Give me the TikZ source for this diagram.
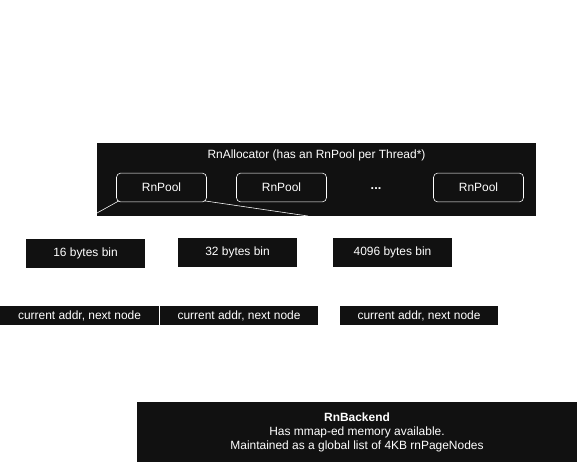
\documentclass[tikz,border=0pt]{standalone}
\usepackage{fontspec}
\setmainfont{Liberation Sans}
\usepackage{xcolor}
\definecolor{boxdark}{HTML}{111111}

\begin{document}
\begin{tikzpicture}[x=0.025cm, y=-0.025cm,
        darkBox/.style = {fill=boxdark,
            text=white,
            inner sep=0pt,
            font=\fontsize{8.5}{10}\selectfont},
        pool/.style = {draw=white,
            rounded corners=3pt,
            fill=boxdark,
            text=white,
            minimum width=2.25cm,
            minimum height=0.72cm,
            font=\fontsize{8.5}{10}\selectfont}]

        \useasboundingbox (0,0) rectangle (577,463);

        % Allocator
        \node[darkBox,minimum width=10.975cm,minimum height=1.825cm] (alloc) at (316.5,179.5) {};
        \node[text=white,font=\fontsize{8.5}{10}\selectfont] (allocTitle) at (316.5,155) {RnAllocator (has an RnPool per Thread*)};

        % Pools
        \node[pool] (poolA) at (161.5,187.5) {RnPool};
        \node[pool] (poolB) at (281.5,187.5) {RnPool};
        \node[text=white,font=\bfseries\fontsize{9}{10}\selectfont] (dots) at (376,189) {...};
        \node[pool] (poolC) at (478.5,187.5) {RnPool};

        % Pool lines
        \coordinate (leftEnd) at (97,213);
        \coordinate (rightEnd) at (308,216);
        \draw[white,thin] (poolA.south west) ++(2pt,1pt) coordinate (poolAsw) -- (leftEnd);
        \draw[white,thin] (poolA.south east) ++(-2pt,1pt) coordinate (poolAse) -- (rightEnd);

        % Bins
        \node[darkBox,minimum width=2.975cm,minimum height=0.725cm] (bin16) at (85.5,253.5) {16 bytes bin};
        \node[darkBox,minimum width=2.975cm,minimum height=0.725cm] (bin32) at (237.5,252.5) {32 bytes bin};
        \node[darkBox,minimum width=2.975cm,minimum height=0.725cm] (bin4096) at (392.5,252.5) {4096 bytes bin};

        % Nodes
        \node[darkBox,minimum width=3.975cm,minimum height=0.475cm] (nodeA) at (79.5,315.5) {current addr, next node};
        \node[darkBox,minimum width=3.95cm,minimum height=0.475cm] (nodeB) at (239,315.5) {current addr, next node};
        \node[darkBox,minimum width=3.95cm,minimum height=0.475cm] (nodeC) at (419,315.5) {current addr, next node};

        % Backend
        \node[darkBox,minimum width=11cm,minimum height=1.5cm,align=center] (backend) at (357,432)
            {\textbf{RnBackend}\\Has mmap-ed memory available.\\Maintained as a global list of 4KB rnPageNodes};
    \end{tikzpicture}
\end{document}
